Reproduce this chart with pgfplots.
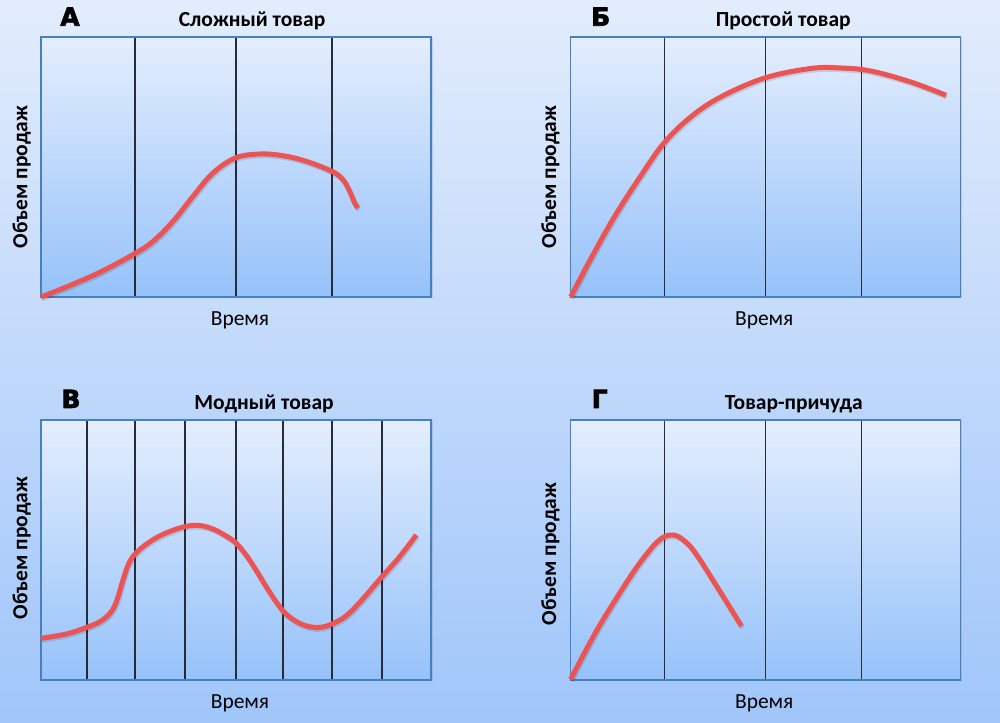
\documentclass[border=0pt]{standalone}
\usepackage{pgfplots}
\pgfplotsset{compat=1.18}
\usepackage{pgfplotstable}
\usepackage{fontspec}
\setmainfont{Carlito}
\newfontfamily\heavyfont{DejaVu Sans}[FakeBold=2.5]
\usetikzlibrary{shadows}

\definecolor{bgtop}{RGB}{226,236,252}
\definecolor{bgbot}{RGB}{160,198,250}
\definecolor{paneltop}{RGB}{228,238,253}
\definecolor{panelbot}{RGB}{150,194,250}
\definecolor{framecol}{RGB}{70,128,190}
\definecolor{gridcol}{RGB}{40,44,56}
\definecolor{curvered}{RGB}{236,84,84}

\pgfplotstableread{
x y
0 0
25.3 10
58.7 24.6
93.7 43.3
112 55.6
132 75.6
152 100.6
172 124
194.4 139
218.7 143
242 141.3
265.4 135.6
291 125.6
302 117.3
308.7 105.6
313.7 94
317 89
}\curveA

\pgfplotstableread{
x y
0 0
20 38
44 80.7
70 121
93.3 154
120 180
150 200
194 219
240 228.5
270 229
300 226
340 215
375.3 201.7
}\curveB

\pgfplotstableread{
x y
0 41.7
25.3 46
46 52.7
60 59
70 68
76 80
82 100
88 117
96 128
110 139
125 147
143.5 153.3
158 154.5
172 151
185 144
195 137
205 125
215 110
226 92
236 77
245 66
258 57
270 53
280 52.7
291 56
305 64
320 79
341 103.3
358.7 123.3
375.3 145
}\curveC

\pgfplotstableread{
x y
0 0.7
27.3 51.7
60.7 105
80 131
90 141
98 144.8
104 144.8
112 140.5
124 128
147.3 91.7
170.7 54
}\curveD

\tikzset{letter/.style={font=\heavyfont\bfseries\fontsize{25}{28}\selectfont, anchor=base}}

\pgfplotsset{
  every axis title shift=0pt,
  panel/.style={
    scale only axis, width=390pt, height=260pt,
    xmin=0, xmax=390, ymin=0, ymax=260, clip=false,
    anchor=south west,
    axis line style={framecol, line width=1.5pt},
    axis background/.style={shade, top color=paneltop, bottom color=panelbot,
      drop shadow={opacity=0.25, shadow xshift=1.5pt, shadow yshift=-1.5pt}},
    ytick=\empty, xticklabels={}, major tick length=0pt,
    xmajorgrids, grid style={gridcol, line width=1.1pt},
    title style={font=\bfseries\fontsize{21.5}{25}\selectfont, anchor=base},
    xlabel style={font=\fontsize{21.5}{25}\selectfont, anchor=base},
    ylabel style={font=\bfseries\fontsize{21.5}{25}\selectfont, anchor=base},
  },
  redcurve/.style={smooth, tension=0.6, color=curvered, line width=5pt, mark=none},
  shadowcurve/.style={smooth, tension=0.6, color=black, opacity=0.12, line width=5pt, mark=none, xshift=1pt, yshift=-1.8pt},
}

\begin{document}
\begin{tikzpicture}[x=1pt,y=1pt]
\shade[top color=bgtop, bottom color=bgbot] (0,0) rectangle (1000,722);

% Panel A
\begin{axis}[panel, at={(41,425)}, xtick={94,195,291},
  title={Сложный товар}, title style={at={(axis cs:211,270)}},
  xlabel={Время}, xlabel style={at={(axis cs:199,-29)}},
  ylabel={Объем продаж}, ylabel style={at={(axis cs:-13.5,120)}}]
\addplot[shadowcurve] table {\curveA};
\addplot[redcurve] table {\curveA};
\node[letter] at (axis cs:29,271.3) {А};
\end{axis}

% Panel B
\begin{axis}[panel, at={(570.7,425)}, xtick={94,195,291},
  title={Простой товар}, title style={at={(axis cs:212.5,270)}},
  xlabel={Время}, xlabel style={at={(axis cs:193.5,-29)}},
  ylabel={Объем продаж}, ylabel style={at={(axis cs:-14.5,120)}}]
\addplot[shadowcurve] table {\curveB};
\addplot[redcurve] table {\curveB};
\node[letter] at (axis cs:30,271.3) {Б};
\end{axis}

% Panel V
\begin{axis}[panel, at={(41,42)}, xtick={46,94,144,195,242,291,341},
  title={Модный товар}, title style={at={(axis cs:223,270)}},
  xlabel={Время}, xlabel style={at={(axis cs:199,-29)}},
  ylabel={Объем продаж}, ylabel style={at={(axis cs:-13.5,132)}}]
\addplot[shadowcurve] table {\curveC};
\addplot[redcurve] table {\curveC};
\node[letter] at (axis cs:30,272) {В};
\end{axis}

% Panel G
\begin{axis}[panel, at={(570.7,42)}, xtick={94,195,291},
  title={Товар-причуда}, title style={at={(axis cs:223,270)}},
  xlabel={Время}, xlabel style={at={(axis cs:193.5,-29)}},
  ylabel={Объем продаж}, ylabel style={at={(axis cs:-14.5,126)}}]
\addplot[shadowcurve] table {\curveD};
\addplot[redcurve] table {\curveD};
\node[letter] at (axis cs:29,272) {Г};
\end{axis}
\end{tikzpicture}
\end{document}
